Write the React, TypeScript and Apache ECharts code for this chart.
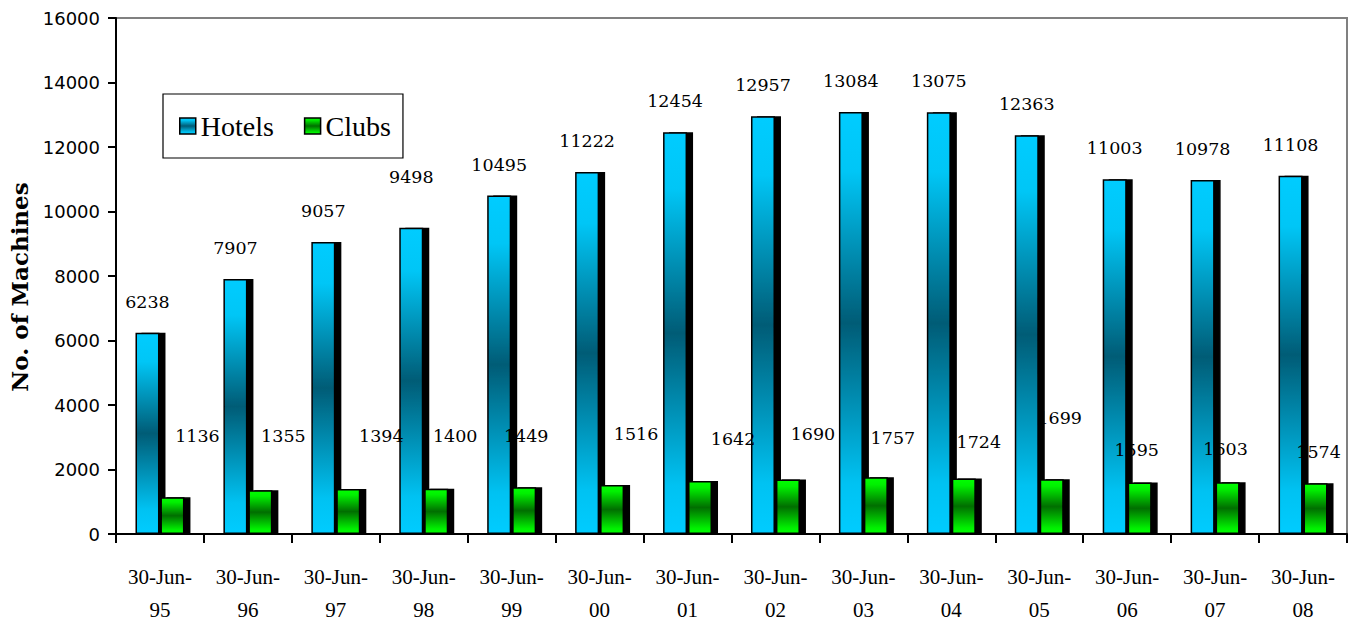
import React, { useEffect, useRef } from "react";
import * as echarts from "echarts";

const years = ["95", "96", "97", "98", "99", "00", "01", "02", "03", "04", "05", "06", "07", "08"];
const categories = years.map((y) => "30-Jun-\n" + y);
const hotels = [6238, 7907, 9057, 9498, 10495, 11222, 12454, 12957, 13084, 13075, 12363, 11003, 10978, 11108];
const clubs = [1136, 1355, 1394, 1400, 1449, 1516, 1642, 1690, 1757, 1724, 1699, 1595, 1603, 1574];
const yMin = 0;
const yMax = 16000;
const yStep = 2000;

export default function App() {
  const ref = useRef<HTMLDivElement>(null);

  useEffect(() => {
    document.body.style.margin = "0";
    if (!ref.current) return;
    const chart = echarts.init(ref.current, null, { renderer: "svg" });

    // label nudges (as placed in the original chart)
    const hotelLabelNudge: Record<number, [number, number]> = { 3: [0, -20] };
    const clubLabelNudge: [number, number][] = [
      [25, -52], [23, -45], [33, -44], [19, -44], [2, -42], [24, -42], [33, -33],
      [25, -36], [17, -30], [15, -27], [8, -52], [-3, -24], [-2, -24], [3, -22],
    ];

    const hotelGrad = {
      type: "linear", x: 0, y: 0, x2: 0, y2: 1,
      colorStops: [
        { offset: 0, color: "#00CCFF" },
        { offset: 0.14, color: "#00C6F6" },
        { offset: 0.5, color: "#005C76" },
        { offset: 0.88, color: "#00C2F2" },
        { offset: 1, color: "#00CCFF" },
      ],
    };
    const clubGrad = {
      type: "linear", x: 0, y: 0, x2: 0, y2: 1,
      colorStops: [
        { offset: 0, color: "#00FF00" },
        { offset: 0.12, color: "#00F000" },
        { offset: 0.5, color: "#006E00" },
        { offset: 0.9, color: "#00F000" },
        { offset: 1, color: "#00FF00" },
      ],
    };

    const labelFont = { color: "#000", fontFamily: "DejaVu Serif", fontSize: 17.5 };

    chart.setOption({
      animation: false,
      backgroundColor: "#fff",
      grid: {
        left: 116, right: 9, top: 18, bottom: 88,
        show: true, borderColor: "#808080", borderWidth: 2,
      },
      graphic: [
        {
          type: "text",
          x: 19, y: 287, rotation: Math.PI / 2,
          style: {
            text: "No. of Machines",
            fontFamily: "DejaVu Serif", fontWeight: "bold", fontSize: 23,
            fill: "#000", textAlign: "center", textVerticalAlign: "middle",
          },
        },
      ],
      legend: {
        left: 163, top: 94,
        padding: [18, 12, 18, 16],
        itemGap: 30, itemWidth: 16, itemHeight: 16,
        borderColor: "#000", borderWidth: 1.2, backgroundColor: "#fff",
        icon: "rect",
        textStyle: { fontFamily: "Liberation Serif", fontSize: 28, color: "#000" },
        itemStyle: {
          borderColor: "#000", borderWidth: 1.5,
          shadowColor: "rgba(0,0,0,0)", shadowBlur: 0, shadowOffsetX: 0, shadowOffsetY: 0,
        },
        data: ["Hotels", "Clubs"],
      },
      xAxis: {
        type: "category",
        data: categories,
        z: 5,
        axisLine: { lineStyle: { color: "#000", width: 2 } },
        axisTick: { show: true, length: 9, lineStyle: { color: "#000", width: 2 } },
        axisLabel: {
          interval: 0, margin: 26, color: "#000",
          fontFamily: "Liberation Serif", fontSize: 21, lineHeight: 33,
        },
        splitLine: { show: false },
      },
      yAxis: {
        type: "value",
        min: yMin, max: yMax, interval: yStep,
        z: 5,
        axisLine: { show: true, lineStyle: { color: "#000", width: 2 } },
        axisTick: { show: true, length: 8, lineStyle: { color: "#000", width: 2 } },
        axisLabel: {
          color: "#000", fontFamily: "DejaVu Sans", fontSize: 18, margin: 16,
          formatter: (v: number) => String(v),
        },
        splitLine: { show: false },
      },
      series: [
        {
          name: "Hotels",
          type: "bar",
          barWidth: 24,
          barGap: "4%",
          data: hotels.map((v, i) =>
            hotelLabelNudge[i] ? { value: v, label: { offset: hotelLabelNudge[i] } } : v
          ),
          itemStyle: {
            color: hotelGrad,
            borderColor: "#000", borderWidth: 1.5,
            shadowColor: "#000", shadowBlur: 0, shadowOffsetX: 6, shadowOffsetY: 0,
          },
          label: { show: true, position: "top", distance: 22, ...labelFont },
        },
        {
          name: "Clubs",
          type: "bar",
          barWidth: 24,
          data: clubs.map((v, i) => ({ value: v, label: { offset: clubLabelNudge[i] } })),
          itemStyle: {
            color: clubGrad,
            borderColor: "#000", borderWidth: 1.5,
            shadowColor: "#000", shadowBlur: 0, shadowOffsetX: 6, shadowOffsetY: 0,
          },
          label: { show: true, position: "top", distance: 0, ...labelFont },
        },
      ],
    });

    return () => chart.dispose();
  }, []);

  return <div ref={ref} style={{ width: 1356, height: 626 }} />;
}
